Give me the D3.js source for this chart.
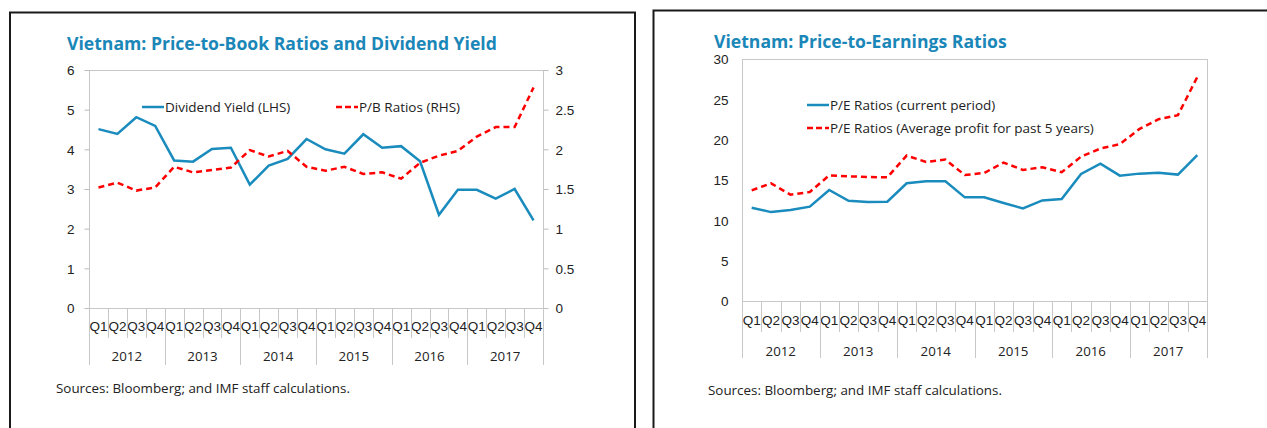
<!DOCTYPE html>
<html>
<head>
<meta charset="utf-8">
<script src="https://cdn.jsdelivr.net/npm/d3@7"></script>
<style>
  body { margin: 0; background: #fff; }
  svg { display: block; font-family: 'Open Sans', 'Noto Sans', sans-serif; }
  .frame { fill: none; stroke: #1a1a1a; stroke-width: 2; }
  .plot-box { fill: none; stroke: #c8c8c8; stroke-width: 1; }
  .axis path { display: none; }
  .axis line { stroke: #bdbdbd; }
  .axis text { fill: #222; font-size: 13.5px; }
  .sep { stroke: #c8c8c8; stroke-width: 1; }
  .qlabel { fill: #222; font-size: 13.3px; }
  .title { fill: #1a87b8; font-size: 17.6px; font-weight: 700; }
  .legend text { fill: #222; font-size: 13.5px; }
  .source { fill: #222; font-size: 13.4px; }
</style>
</head>
<body>
<script>
const quarters = ['Q1', 'Q2', 'Q3', 'Q4'];
const years = ['2012', '2013', '2014', '2015', '2016', '2017'];

// left panel
const dividendYield = [4.51, 4.39, 4.81, 4.59, 3.72, 3.69, 4.01, 4.04, 3.11, 3.59, 3.76, 4.26,
  4.00, 3.89, 4.38, 4.04, 4.08, 3.70, 2.35, 2.98, 2.98, 2.76, 3.00, 2.21];
const pbRatio = [1.52, 1.58, 1.48, 1.52, 1.78, 1.71, 1.74, 1.77, 1.99, 1.91, 1.98, 1.78,
  1.73, 1.78, 1.69, 1.71, 1.63, 1.83, 1.92, 1.98, 2.16, 2.28, 2.28, 2.78];
const lhsTicks = [0, 1, 2, 3, 4, 5, 6];
const rhsTicks = [0, 0.5, 1, 1.5, 2, 2.5, 3];

// right panel
const peCurrent = [11.56, 11.02, 11.27, 11.69, 13.76, 12.43, 12.27, 12.31, 14.59, 14.84, 14.84, 12.85,
  12.85, 12.14, 11.48, 12.47, 12.64, 15.75, 17.03, 15.54, 15.79, 15.91, 15.67, 18.07];
const peAvg5y = [13.72, 14.59, 13.18, 13.51, 15.58, 15.46, 15.37, 15.33, 18.03, 17.24, 17.53, 15.62,
  15.87, 17.16, 16.25, 16.58, 15.96, 17.90, 18.90, 19.44, 21.30, 22.54, 23.04, 27.77];
const peTicks = [0, 5, 10, 15, 20, 25, 30];

const periods = years.flatMap(y => quarters.map(q => `${y} ${q}`));

const BLUE = '#1a8bbd';
const RED = '#ff0000';
const fmt = d3.format('~g');

const svg = d3.select('body')
  .append('svg')
  .attr('width', 1267)
  .attr('height', 428);

function drawPanel (cfg) {
  svg.append('rect')
    .attr('class', 'frame')
    .attr('x', cfg.frame.x)
    .attr('y', cfg.frame.y)
    .attr('width', cfg.frame.w)
    .attr('height', 500);

  svg.append('text')
    .attr('class', 'title')
    .attr('x', cfg.titleX)
    .attr('y', cfg.titleY)
    .text(cfg.title);

  const p = cfg.plot;
  const x = d3.scaleBand().domain(periods).range([p.left, p.right]).padding(0);
  const y = d3.scaleLinear().domain(cfg.yDomain).range([p.bottom, p.top]);

  svg.append('rect')
    .attr('class', 'plot-box')
    .attr('x', p.left + 0.5)
    .attr('y', p.top + 0.5)
    .attr('width', p.right - p.left)
    .attr('height', p.bottom - p.top);

  svg.append('g')
    .attr('class', 'axis')
    .attr('transform', `translate(${p.left + 0.5},0)`)
    .call(d3.axisLeft(y).tickValues(cfg.yTicks).tickFormat(fmt).tickSize(cfg.tickLen).tickPadding(cfg.tickPad))
    .selectAll('text')
    .attr('dy', '0.35em');

  let y2 = null;
  if (cfg.y2Domain) {
    y2 = d3.scaleLinear().domain(cfg.y2Domain).range([p.bottom, p.top]);
    svg.append('g')
      .attr('class', 'axis')
      .attr('transform', `translate(${p.right + 0.5},0)`)
      .call(d3.axisRight(y2).tickValues(cfg.y2Ticks).tickFormat(fmt).tickSize(5).tickPadding(7))
      .selectAll('text')
      .attr('dy', '0.35em');
  }

  // quarter labels
  svg.append('g')
    .attr('class', 'axis')
    .attr('transform', `translate(0,${p.bottom})`)
    .call(d3.axisBottom(x).tickSize(0).tickPadding(cfg.qPad).tickFormat(d => d.split(' ')[1]))
    .selectAll('text')
    .attr('class', 'qlabel');

  // separators at band edges
  const edges = periods.map(d => x(d)).concat([p.right]);
  svg.selectAll(null)
    .data(edges)
    .enter()
    .append('line')
    .attr('class', 'sep')
    .attr('x1', d => Math.round(d) + 0.5)
    .attr('x2', d => Math.round(d) + 0.5)
    .attr('y1', p.bottom)
    .attr('y2', (d, i) => p.bottom + (i % 4 === 0 ? cfg.yearDepth : cfg.qDepth));

  svg.selectAll(null)
    .data(years)
    .enter()
    .append('text')
    .attr('class', 'qlabel')
    .attr('x', d => x(`${d} Q1`) + x.bandwidth() * 2)
    .attr('y', cfg.yearY)
    .attr('text-anchor', 'middle')
    .attr('dy', '0.35em')
    .text(d => d);

  const lineFor = (scale) => d3.line()
    .x((d, i) => x(periods[i]) + x.bandwidth() / 2)
    .y(d => scale(d));

  cfg.series.forEach(s => {
    svg.append('path')
      .datum(s.values)
      .attr('fill', 'none')
      .attr('stroke', s.color)
      .attr('stroke-width', 2.5)
      .attr('stroke-dasharray', s.dashed ? '6,4' : null)
      .attr('stroke-linejoin', 'miter')
      .attr('d', lineFor(s.axis === 'right' ? y2 : y));
  });

  const legend = svg.append('g').attr('class', 'legend');
  cfg.legend.forEach(l => {
    legend.append('line')
      .attr('x1', l.x)
      .attr('x2', l.x + 22)
      .attr('y1', l.y)
      .attr('y2', l.y)
      .attr('stroke', l.color)
      .attr('stroke-width', 2.5)
      .attr('stroke-dasharray', l.dashed ? '6,3' : null);
    legend.append('text')
      .attr('x', l.x + 23)
      .attr('y', l.y)
      .attr('dy', '0.35em')
      .text(l.label);
  });

  svg.append('text')
    .attr('class', 'source')
    .attr('x', cfg.sourceX)
    .attr('y', cfg.sourceY)
    .attr('dy', '0.35em')
    .text('Sources: Bloomberg; and IMF staff calculations.');
}

drawPanel({
  frame: { x: 10, y: 12.5, w: 625 },
  title: 'Vietnam: Price-to-Book Ratios and Dividend Yield',
  titleX: 67,
  titleY: 50,
  plot: { left: 89, right: 543, top: 70, bottom: 308 },
  yDomain: [0, 6],
  yTicks: lhsTicks,
  tickLen: 5,
  tickPad: 10,
  y2Domain: [0, 3],
  y2Ticks: rhsTicks,
  qPad: 13,
  qDepth: 30,
  yearDepth: 57,
  yearY: 356,
  series: [
    { values: dividendYield, color: BLUE, axis: 'left' },
    { values: pbRatio, color: RED, dashed: true, axis: 'right' }
  ],
  legend: [
    { x: 142, y: 107, color: BLUE, label: 'Dividend Yield (LHS)' },
    { x: 336, y: 107, color: RED, dashed: true, label: 'P/B Ratios (RHS)' }
  ],
  sourceX: 56,
  sourceY: 388
});

drawPanel({
  frame: { x: 653.5, y: 10.5, w: 700 },
  title: 'Vietnam: Price-to-Earnings Ratios',
  titleX: 714,
  titleY: 48,
  plot: { left: 742, right: 1207, top: 59, bottom: 301 },
  yDomain: [0, 30],
  yTicks: peTicks,
  tickLen: 0,
  tickPad: 14,
  qPad: 14,
  qDepth: 31,
  yearDepth: 57,
  yearY: 351,
  series: [
    { values: peCurrent, color: BLUE, axis: 'left' },
    { values: peAvg5y, color: RED, dashed: true, axis: 'left' }
  ],
  legend: [
    { x: 807, y: 105, color: BLUE, label: 'P/E Ratios (current period)' },
    { x: 807, y: 128, color: RED, dashed: true, label: 'P/E Ratios (Average profit for past 5 years)' }
  ],
  sourceX: 708,
  sourceY: 390
});
</script>
</body>
</html>
